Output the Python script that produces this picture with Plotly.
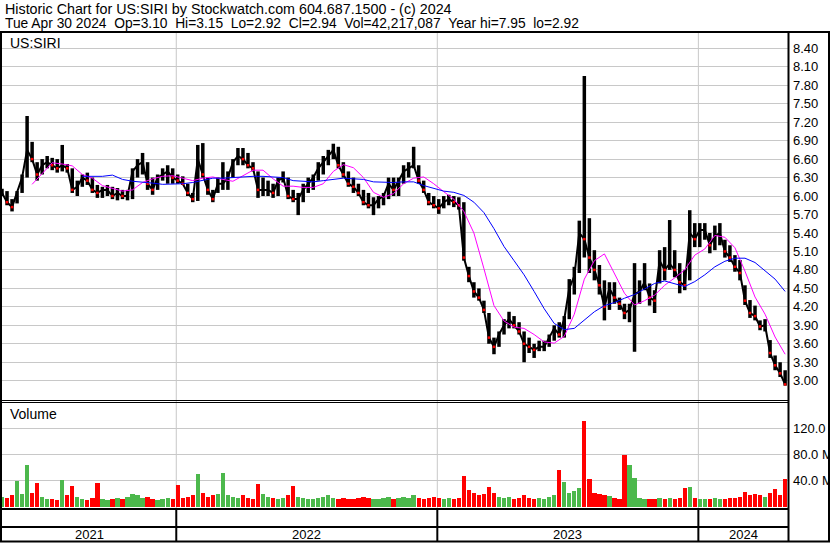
import plotly.graph_objects as go
import pandas as pd

# ---------------- data (weekly) ----------------
first_week = "2021-05-05"   # mid-week date of first weekly bar
n_weeks = 157
week_dates = pd.date_range(first_week, periods=n_weeks, freq="7D")

hi = [6.12, 6.08, 5.95, 6.08, 6.35, 7.30, 6.88, 6.55, 6.60, 6.65,
      6.62, 6.60, 6.83, 6.52, 6.45, 6.25, 6.35, 6.38, 6.30, 6.18,
      6.15, 6.18, 6.15, 6.13, 6.10, 6.10, 6.45, 6.60, 6.70, 6.55,
      6.30, 6.35, 6.45, 6.50, 6.45, 6.35, 6.32, 6.20, 6.05, 6.83,
      6.86, 6.30, 6.10, 6.30, 6.55, 6.40, 6.60, 6.78, 6.78, 6.70,
      6.55, 6.40, 6.30, 6.25, 6.20, 6.30, 6.40, 6.30, 6.10, 6.05,
      6.20, 6.30, 6.35, 6.55, 6.65, 6.75, 6.85, 6.80, 6.55, 6.40,
      6.30, 6.20, 6.10, 6.05, 5.98, 6.00, 6.05, 6.30, 6.30, 6.30,
      6.50, 6.55, 6.80, 6.50, 6.25, 6.05, 6.00, 5.95, 6.00, 6.02,
      6.00, 5.98, 5.90, 4.85, 4.60, 4.50, 4.30, 4.10, 3.70, 3.80,
      4.00, 4.12, 4.05, 3.95, 3.80, 3.70, 3.60, 3.65, 3.65, 3.75,
      3.90, 3.95, 4.05, 4.65, 4.85, 5.60, 7.95, 5.64, 5.12, 4.88,
      4.63, 4.60, 4.60, 4.35, 4.25, 4.25, 4.91, 4.63, 4.91, 4.58,
      4.47, 5.12, 5.17, 5.61, 5.12, 4.91, 4.80, 5.77, 5.56, 5.56,
      5.56, 5.40, 5.52, 5.56, 5.29, 5.20, 5.04, 4.96, 4.55, 4.31,
      4.22, 3.98, 4.00, 3.66, 3.41, 3.30, 3.17]

lo = [6.00, 5.85, 5.75, 5.88, 6.05, 6.30, 6.55, 6.25, 6.35, 6.45,
      6.42, 6.38, 6.40, 6.38, 6.05, 6.00, 6.15, 6.18, 6.05, 5.97,
      5.97, 6.00, 5.95, 5.93, 5.95, 5.93, 5.95, 6.30, 6.35, 6.10,
      6.02, 6.10, 6.25, 6.20, 6.20, 6.20, 6.18, 6.00, 5.90, 5.92,
      6.30, 6.02, 5.90, 6.05, 6.10, 6.10, 6.30, 6.50, 6.50, 6.45,
      6.40, 5.97, 6.00, 6.00, 5.97, 6.00, 6.22, 5.95, 5.90, 5.69,
      5.90, 6.05, 6.10, 6.25, 6.35, 6.50, 6.60, 6.45, 6.30, 6.15,
      6.05, 6.00, 5.85, 5.80, 5.69, 5.80, 5.85, 5.95, 6.00, 6.00,
      6.20, 6.30, 6.45, 6.20, 6.05, 5.85, 5.80, 5.71, 5.80, 5.85,
      5.82, 5.78, 4.95, 4.60, 4.35, 4.30, 4.10, 3.60, 3.43, 3.55,
      3.75, 3.85, 3.85, 3.75, 3.30, 3.45, 3.37, 3.48, 3.48, 3.55,
      3.65, 3.70, 3.70, 4.00, 4.40, 4.75, 5.00, 4.75, 4.63, 4.40,
      3.98, 4.15, 4.25, 4.15, 4.00, 3.95, 3.47, 4.25, 4.47, 4.22,
      4.10, 4.58, 4.63, 4.80, 4.68, 4.42, 4.47, 4.63, 5.17, 5.17,
      5.29, 5.07, 5.12, 5.20, 5.00, 4.93, 4.77, 4.63, 4.23, 4.02,
      3.98, 3.82, 3.80, 3.37, 3.17, 3.06, 2.92]

close = [6.05, 5.90, 5.82, 6.05, 6.30, 6.75, 6.60, 6.35, 6.50, 6.55,
         6.50, 6.45, 6.50, 6.45, 6.10, 6.15, 6.30, 6.25, 6.10, 6.05,
         6.10, 6.10, 6.00, 6.05, 6.00, 6.00, 6.40, 6.50, 6.55, 6.20,
         6.10, 6.30, 6.35, 6.40, 6.30, 6.25, 6.20, 6.05, 5.95, 6.60,
         6.35, 6.10, 5.95, 6.20, 6.20, 6.30, 6.55, 6.65, 6.60, 6.50,
         6.45, 6.10, 6.10, 6.10, 6.05, 6.25, 6.30, 6.00, 5.95, 5.95,
         6.10, 6.20, 6.30, 6.45, 6.55, 6.65, 6.75, 6.50, 6.35, 6.20,
         6.15, 6.05, 5.90, 5.85, 5.85, 5.95, 6.00, 6.20, 6.10, 6.25,
         6.40, 6.45, 6.50, 6.25, 6.10, 5.90, 5.85, 5.80, 5.90, 5.95,
         5.90, 5.85, 5.00, 4.70, 4.45, 4.35, 4.15, 3.70, 3.55, 3.75,
         3.90, 4.00, 3.90, 3.80, 3.60, 3.55, 3.50, 3.55, 3.55, 3.70,
         3.85, 3.75, 4.00, 4.50, 4.70, 5.40, 5.30, 5.00, 4.80, 4.55,
         4.20, 4.50, 4.35, 4.25, 4.10, 4.15, 4.40, 4.45, 4.60, 4.35,
         4.30, 4.95, 4.80, 4.90, 4.80, 4.60, 4.55, 5.40, 5.30, 5.45,
         5.45, 5.20, 5.35, 5.40, 5.10, 5.00, 4.85, 4.75, 4.30, 4.10,
         4.05, 3.88, 3.90, 3.45, 3.25, 3.12, 2.94]

# moving averages, read every second week
ma_fast = [None, None, None, 6.19, 6.37, 6.54, 6.52, 6.49, 6.35, 6.29,
           6.17, 6.12, 6.08, 6.10, 6.22, 6.28, 6.32, 6.33, 6.29, 6.25,
           6.29, 6.31, 6.27, 6.24, 6.33, 6.42, 6.42, 6.28, 6.16, 6.16,
           6.14, 6.14, 6.20, 6.40, 6.51, 6.46, 6.30, 6.06, 5.98, 6.04,
           6.20, 6.29, 6.31, 6.20, 6.07, 5.95, 5.75, 5.40, 4.82, 4.22,
           3.97, 3.87, 3.85, 3.75, 3.63, 3.61, 3.72, 4.08, 4.65, 4.95,
           5.06, 4.75, 4.42, 4.23, 4.30, 4.39, 4.55, 4.67, 4.80, 5.04,
           5.14, 5.36, 5.33, 5.16, 4.78, 4.36, 4.08, 3.71, 3.43]

ma_slow = [None, None, None, None, None, None, None, None, 6.32, 6.32,
           6.32, 6.34, 6.27, 6.24, 6.23, 6.21, 6.19, 6.19, 6.20, 6.22,
           6.26, 6.29, 6.29, 6.30, 6.32, 6.32, 6.32, 6.31, 6.30, 6.25,
           6.24, 6.23, 6.25, 6.27, 6.29, 6.28, 6.27, 6.23, 6.22, 6.22,
           6.23, 6.23, 6.17, 6.12, 6.08, 6.06, 6.01, 5.90, 5.73, 5.47,
           5.18, 4.95, 4.72, 4.45, 4.17, 3.93, 3.83, 3.85, 3.98, 4.12,
           4.22, 4.27, 4.34, 4.40, 4.49, 4.58, 4.62, 4.58, 4.53, 4.61,
           4.72, 4.85, 4.94, 4.99, 4.99, 4.92, 4.79, 4.65, 4.45]

# volume, millions of shares (typical daily level of each week)
vol = [15, 14, 18, 40, 20, 64, 22, 36, 15, 12,
       12, 10, 41, 18, 32, 15, 12, 10, 14, 36,
       12, 10, 12, 14, 12, 16, 20, 18, 14, 16,
       12, 10, 12, 14, 12, 33, 14, 16, 18, 50,
       22, 16, 18, 20, 52, 18, 16, 14, 18, 14,
       12, 35, 20, 16, 14, 12, 14, 18, 32, 16,
       14, 12, 12, 14, 16, 18, 14, 12, 14, 12,
       12, 14, 16, 14, 12, 12, 14, 16, 12, 14,
       16, 14, 18, 14, 12, 14, 16, 14, 12, 14,
       12, 14, 48, 26, 22, 18, 20, 30, 22, 16,
       14, 16, 12, 14, 18, 14, 12, 14, 12, 16,
       18, 56, 38, 22, 24, 29, 132, 42, 22, 20,
       18, 17, 14, 12, 80, 64, 44, 14, 12, 12,
       12, 14, 12, 14, 12, 14, 29, 30, 14, 12,
       12, 12, 14, 12, 12, 14, 14, 16, 23, 18,
       20, 18, 16, 22, 28, 18, 42]

price_ticks = [3.00, 3.30, 3.60, 3.90, 4.20, 4.50, 4.80, 5.10, 5.40, 5.70,
               6.00, 6.30, 6.60, 6.90, 7.20, 7.50, 7.80, 8.10, 8.40]
vol_ticks = [40, 80, 120]
vol_tick_labels = ["40.0 M", "80.0 M", "120.0 M"]
year_starts = ["2022-01-03", "2023-01-02", "2024-01-01"]
year_labels = ["2021", "2022", "2023", "2024"]
x_start, x_end = "2021-05-05", "2024-05-05"

NB = " \u00a0"   # double space kept visible
title1 = "Historic Chart for US:SIRI by Stockwatch.com 604.687.1500 - (c) 2024"
title2 = NB.join(["Tue Apr 30 2024", "Op=3.10", "Hi=3.15", "Lo=2.92", "Cl=2.94",
                  "Vol=42,217,087", "Year hi=7.95", "lo=2.92"])

# ---------------- geometry helpers ----------------
W, H = 830, 543
def px(x):
    return x / W
def py(y):
    return 1 - y / H

GRID = "#c8c8c8"
GREEN = "#4cb84c"
RED = "#ff0000"
FONT = "Liberation Sans, Arial, sans-serif"

fig = go.Figure()

# high-low bars
seg_x, seg_y = [], []
for d, h, l in zip(week_dates, hi, lo):
    seg_x += [d, d, None]
    seg_y += [l, h, None]
fig.add_trace(go.Scatter(x=seg_x, y=seg_y, mode="lines",
                         line=dict(color="black", width=3.5),
                         hoverinfo="skip", showlegend=False))
fig.add_trace(go.Scatter(x=week_dates, y=close, mode="lines",
                         line=dict(color="black", width=2),
                         showlegend=False))
# small red marks on the closes of down weeks
down_x = [d for d, p, c in zip(week_dates[1:], close[:-1], close[1:]) if c < p]
down_y = [c for p, c in zip(close[:-1], close[1:]) if c < p]
fig.add_trace(go.Scatter(x=down_x, y=down_y, mode="markers",
                         marker=dict(color=RED, size=2.5, symbol="square",
                                     line=dict(width=0)),
                         showlegend=False))

ma_dates = week_dates[::2]
fig.add_trace(go.Scatter(x=ma_dates, y=ma_fast, mode="lines",
                         line=dict(color="#ff00ff", width=1),
                         showlegend=False))
fig.add_trace(go.Scatter(x=ma_dates, y=ma_slow, mode="lines",
                         line=dict(color="#0000ff", width=1),
                         showlegend=False))

vol_colors = [GREEN] + [GREEN if c >= p else RED
                        for p, c in zip(close[:-1], close[1:])]
fig.add_trace(go.Bar(x=week_dates, y=vol, marker=dict(color=vol_colors, line=dict(width=0)),
                     width=6 * 86400000, xaxis="x2", yaxis="y2",
                     showlegend=False))

# ---------------- layout ----------------
xdom = [px(2), px(788)]
tickfont = dict(family=FONT, size=13, color="black")
fig.update_layout(
    template="none",
    width=W, height=H,
    margin=dict(l=0, r=0, t=0, b=0, pad=0),
    paper_bgcolor="white", plot_bgcolor="white",
    showlegend=False,
    font=dict(family=FONT, size=14, color="black"),
    xaxis=dict(domain=xdom, range=[x_start, x_end], type="date",
               showgrid=False, showticklabels=False, zeroline=False,
               showline=False, anchor="y", automargin=False),
    xaxis2=dict(domain=xdom, range=[x_start, x_end], type="date",
                showgrid=False, showticklabels=False, zeroline=False,
                showline=False, anchor="y2", matches="x", automargin=False),
    yaxis=dict(domain=[py(400), py(33)], range=[2.6865, 8.6485],
               side="right", tickvals=price_ticks,
               ticktext=[f"{v:.2f}" for v in price_ticks],
               showgrid=True, gridcolor=GRID, gridwidth=1,
               zeroline=False, showline=False, ticks="",
               ticklabelstandoff=4, tickfont=tickfont, anchor="x",
               automargin=False),
    yaxis2=dict(domain=[py(507), py(402)], range=[0, 160.3],
                side="right", tickvals=vol_ticks, ticktext=vol_tick_labels,
                showgrid=True, gridcolor=GRID, gridwidth=1,
                zeroline=False, showline=False, ticks="",
                ticklabelstandoff=4, tickfont=tickfont, anchor="x2",
                automargin=False),
    bargap=0,
)

shapes = []
def hline(y, x0, x1, w=1, color="black"):
    shapes.append(dict(type="line", xref="paper", yref="paper",
                       x0=px(x0), x1=px(x1), y0=py(y), y1=py(y),
                       line=dict(color=color, width=w)))
def vline(x, y0, y1, w=1, color="black"):
    shapes.append(dict(type="line", xref="paper", yref="paper",
                       x0=px(x), x1=px(x), y0=py(y0), y1=py(y1),
                       line=dict(color=color, width=w)))

# year gridlines (grey in panels, black in date strip)
for ys in year_starts:
    shapes.append(dict(type="line", xref="x", yref="paper", x0=ys, x1=ys,
                       y0=py(508), y1=py(33), line=dict(color=GRID, width=1),
                       layer="below"))
    shapes.append(dict(type="line", xref="x", yref="paper", x0=ys, x1=ys,
                       y0=py(541), y1=py(509), line=dict(color="black", width=2)))

hline(32, 0, 830, 2)
hline(400.5, 0, 788, 1)
hline(402.5, 0, 788, 1)
hline(509, 0, 788, 2)
hline(527, 0, 788, 2)
hline(541.5, 0, 830, 2)
vline(1, 32, 542, 2)
vline(788.5, 32, 542, 2)
vline(829, 32, 542, 2)
fig.update_layout(shapes=shapes)

ann = []
def note(text, x, y, size, xref="paper", anchor="left"):
    ann.append(dict(text=text, x=x, y=y, xref=xref, yref="paper",
                    xanchor=anchor, yanchor="middle", showarrow=False,
                    font=dict(family=FONT, size=size, color="black")))
note(title1, px(3), py(9), 14.3)
note(title2, px(3), py(23.5), 13.8)
note("US:SIRI", px(8), py(43.5), 14)
note("Volume", px(8), py(413.5), 14)
bounds = [x_start] + year_starts + [x_end]
for i, lab in enumerate(year_labels):
    a = pd.Timestamp(bounds[i])
    b = pd.Timestamp(bounds[i + 1])
    note(lab, a + (b - a) / 2, py(534.5), 13, xref="x", anchor="center")
fig.update_layout(annotations=ann)

fig.write_html("out.html",
               config={"displayModeBar": False},
               post_script="document.body.style.margin='0';"
                           "document.body.style.overflow='hidden';")
